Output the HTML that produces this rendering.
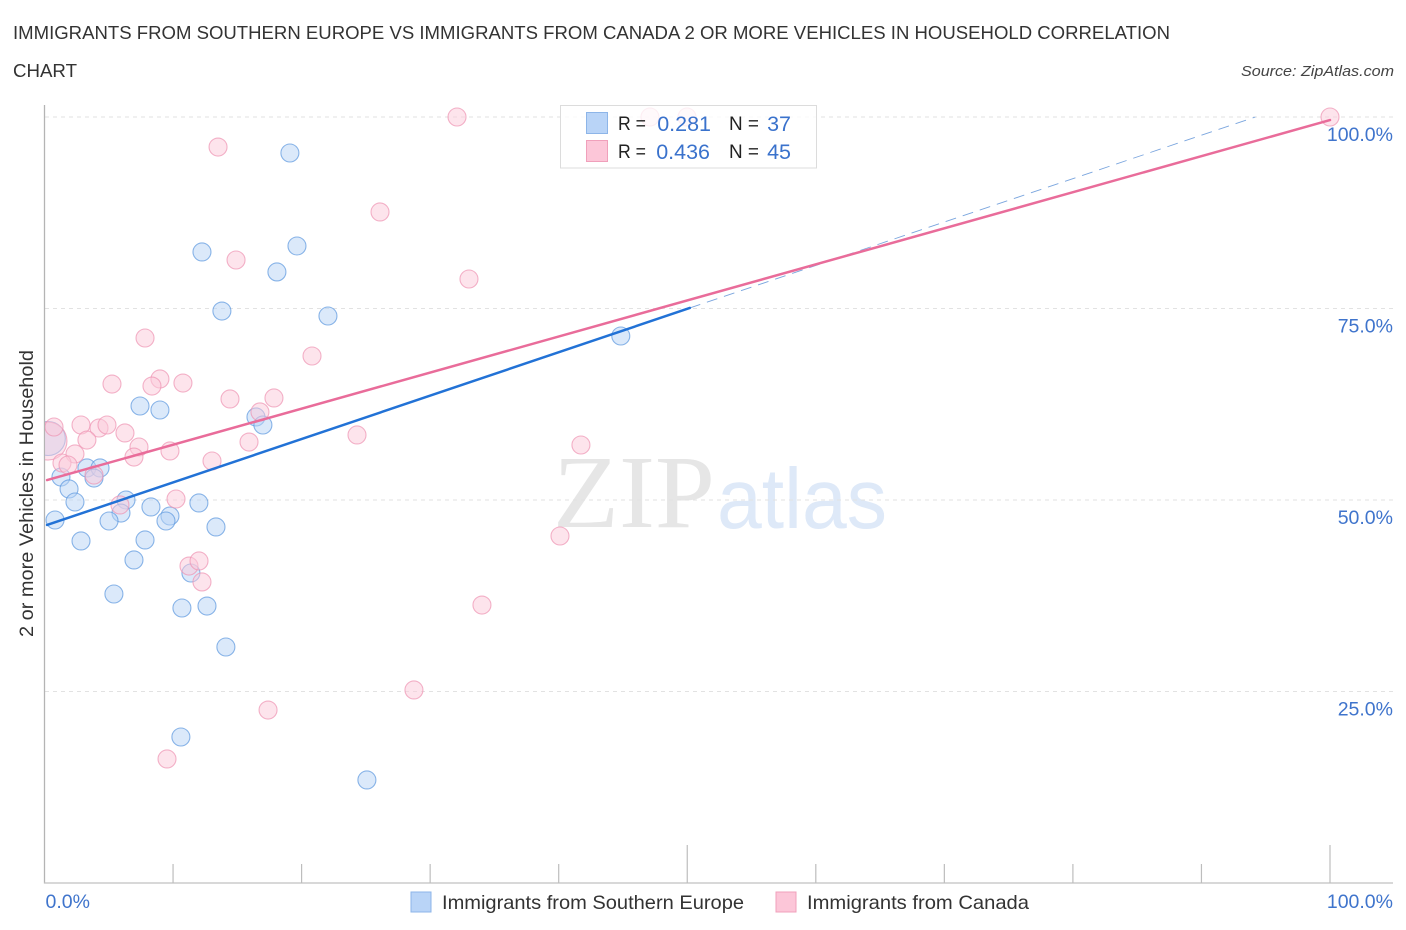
<!DOCTYPE html>
<html lang="en">
<head>
<meta charset="utf-8">
<title>Immigrants from Southern Europe vs Immigrants from Canada correlation chart</title>
<style>
html,body{margin:0;padding:0;background:#fff;}
body{width:1406px;height:930px;overflow:hidden;}
svg{display:block;}
text{font-family:"Liberation Sans",sans-serif;}
</style>
</head>
<body>
<svg id="chart" width="1406" height="930" viewBox="0 0 1406 930" xmlns="http://www.w3.org/2000/svg">
  <text x="13" y="39" font-size="18.5" fill="#333" textLength="1157" lengthAdjust="spacingAndGlyphs">IMMIGRANTS FROM SOUTHERN EUROPE VS IMMIGRANTS FROM CANADA 2 OR MORE VEHICLES IN HOUSEHOLD CORRELATION</text>
  <text x="13" y="77" font-size="18.5" fill="#333" textLength="64" lengthAdjust="spacingAndGlyphs">CHART</text>
  <text x="1394" y="76" font-size="15" font-style="italic" fill="#444" text-anchor="end" textLength="153" lengthAdjust="spacingAndGlyphs">Source: ZipAtlas.com</text>

  <g>
    <text x="553" y="527" font-size="104" fill="#e6e6e6" style="font-family:'Liberation Serif',serif" textLength="162" lengthAdjust="spacingAndGlyphs">ZIP</text>
    <text x="717" y="528" font-size="85" fill="#dee9f8" textLength="170" lengthAdjust="spacingAndGlyphs">atlas</text>
  </g>

  <g id="grid"></g>
  <g id="axes"></g>
  <g id="pointsBlue"></g>
  <g id="pointsPink"></g>
  <g id="trends"></g>
  <g id="ticks"></g>

  <text transform="translate(33,493.5) rotate(-90)" font-size="19.5" fill="#333" text-anchor="middle" textLength="287" lengthAdjust="spacingAndGlyphs">2 or more Vehicles in Household</text>

  <g>
    <rect x="560.5" y="105.5" width="256" height="62.5" fill="#fff" fill-opacity="0.78" stroke="#dcdcdc" stroke-width="1"></rect>
    <rect x="586.5" y="112.5" width="21" height="21" fill="#b9d4f7" stroke="#8db5e8"></rect>
    <rect x="586.5" y="140.5" width="21" height="21" fill="#fcc6d8" stroke="#f0a0bb"></rect>
    <text x="618" y="130" font-size="19" fill="#222" textLength="28" lengthAdjust="spacingAndGlyphs">R =</text>
    <text x="711" y="131" font-size="21.5" fill="#3a72cc" text-anchor="end">0.281</text>
    <text x="729" y="130" font-size="19" fill="#222" textLength="30" lengthAdjust="spacingAndGlyphs">N =</text>
    <text x="791" y="131" font-size="21.5" fill="#3a72cc" text-anchor="end">37</text>
    <text x="618" y="158" font-size="19" fill="#222" textLength="28" lengthAdjust="spacingAndGlyphs">R =</text>
    <text x="710" y="159" font-size="21.5" fill="#3a72cc" text-anchor="end">0.436</text>
    <text x="729" y="158" font-size="19" fill="#222" textLength="30" lengthAdjust="spacingAndGlyphs">N =</text>
    <text x="791" y="159" font-size="21.5" fill="#3a72cc" text-anchor="end">45</text>
  </g>

  <g>
    <g>
      <rect x="411" y="892" width="20" height="20" fill="#b9d4f7" stroke="#8db5e8"></rect>
      <text x="442" y="909" font-size="19.5" fill="#333" textLength="302" lengthAdjust="spacingAndGlyphs">Immigrants from Southern Europe</text>
    </g>
    <g>
      <rect x="776" y="892" width="20" height="20" fill="#fcc6d8" stroke="#f0a0bb"></rect>
      <text x="807" y="909" font-size="19.5" fill="#333" textLength="222" lengthAdjust="spacingAndGlyphs">Immigrants from Canada</text>
    </g>
  </g>
</svg>
<script>
// Data (percent values)
var blueX = [0.3,19.09,19.64,12.25,18.08,13.80,22.05,44.83,7.43,8.98,16.45,16.99,3.30,4.32,3.85,1.28,1.91,2.37,6.34,5.95,8.28,9.76,9.45,12.01,5.02,0.82,13.34,2.84,7.82,6.96,11.39,5.40,10.69,12.64,14.11,10.61,25.08];
var blueY = [58.03,95.30,83.16,82.38,79.77,74.67,74.02,71.41,62.27,61.75,60.84,59.79,54.18,54.18,52.87,53.00,51.44,49.74,50.00,48.30,49.09,47.91,47.26,49.61,47.26,47.39,46.48,44.65,44.78,42.17,40.47,37.73,35.90,36.16,30.81,19.06,13.45];
var pinkX = [0.27,32.09,47.10,49.98,100.0,13.50,26.10,14.90,33.02,7.82,20.81,5.25,8.98,8.36,10.77,14.43,17.85,16.76,15.91,24.31,41.73,0.74,2.84,4.24,4.86,6.26,3.30,7.35,6.96,9.76,13.03,2.37,1.36,1.83,3.85,5.87,10.23,40.10,11.24,12.02,12.25,34.03,28.74,17.39,9.53];
var pinkY = [57.70,100,100,100,100,96.08,87.60,81.33,78.85,71.15,68.80,65.14,65.80,64.88,65.27,63.19,63.32,61.49,57.57,58.49,57.18,59.53,59.79,59.40,59.79,58.75,57.83,56.92,55.61,56.40,55.09,56.01,54.83,54.57,53.26,49.35,50.13,45.30,41.38,42.04,39.30,36.29,25.20,22.58,16.19];
var blueTrendX = [0.2,50.2];
var blueTrendY = [46.74,75.07];
var blueDashX = [50.2,94.2];
var blueDashY = [75.07,100];
var pinkTrendX = [0.2,100];
var pinkTrendY = [52.6,99.6];
var yTicks = [25,50,75,100];
var yTickLabels = ["25.0%","50.0%","75.0%","100.0%"];
var xMinorTicks = [10,20,30,40,60,70,80,90];
var xMajorTicks = [50,100];
var xTickLabels = ["0.0%","100.0%"];

var NS = "http://www.w3.org/2000/svg";
function sx(v){ return 44.5 + v * 12.855; }
function sy(v){ return 883 - v * 7.66; }
function make(tag, parentId, attrs){
  var el = document.createElementNS(NS, tag);
  for (var k in attrs) el.setAttribute(k, attrs[k]);
  document.getElementById(parentId).appendChild(el);
  return el;
}

// clip for the points at the y axis
var defs = document.createElementNS(NS, "defs");
var clip = document.createElementNS(NS, "clipPath");
clip.setAttribute("id", "plotClip");
var clipRect = document.createElementNS(NS, "rect");
clipRect.setAttribute("x", 45); clipRect.setAttribute("y", 90);
clipRect.setAttribute("width", 1361); clipRect.setAttribute("height", 800);
clip.appendChild(clipRect); defs.appendChild(clip);
document.getElementById("chart").insertBefore(defs, document.getElementById("chart").firstChild);
document.getElementById("pointsBlue").setAttribute("clip-path", "url(#plotClip)");
document.getElementById("pointsPink").setAttribute("clip-path", "url(#plotClip)");

// gridlines
yTicks.forEach(function(t){
  var g = make("line", "grid", {x1:45, x2:1393, y1:sy(t), y2:sy(t), stroke:"#e2e2e2", "stroke-width":1, "stroke-dasharray":"4 4"});
  
  
});

// axes
var yAxis = make("line", "axes", {x1:44.5, x2:44.5, y1:105, y2:883.5, stroke:"#b4b4b4", "stroke-width":1.3});


var xAxis = make("line", "axes", {x1:44, x2:1393, y1:883, y2:883, stroke:"#c0c0c0", "stroke-width":1.3});


xMinorTicks.forEach(function(t){
  var l = make("line", "axes", {x1:sx(t), x2:sx(t), y1:864, y2:883, stroke:"#bdbdbd", "stroke-width":1.2});
  
  
});
xMajorTicks.forEach(function(t){
  var l = make("line", "axes", {x1:sx(t), x2:sx(t), y1:845, y2:883, stroke:"#bdbdbd", "stroke-width":1.2});
  
  
});

// points
function drawPoints(xs, ys, parentId, fill, stroke, bigR){
  xs.forEach(function(x, i){
    var c = make("circle", parentId, {cx:sx(x), cy:sy(ys[i]), r:(i === 0 ? bigR : 9), fill:fill, "fill-opacity":0.5, stroke:stroke, "stroke-opacity":0.7, "stroke-width":1.1});
    
    
  });
}
drawPoints(blueX, blueY, "pointsBlue", "#b8d3f5", "#5b97de", 17);
drawPoints(pinkX, pinkY, "pointsPink", "#fbc9da", "#ee93b2", 19);

// trend lines
var dashLine = make("line", "trends", {x1:sx(blueDashX[0]), y1:sy(blueDashY[0]), x2:sx(blueDashX[1]), y2:sy(blueDashY[1]), stroke:"#7aa5de", "stroke-width":0.9, "stroke-dasharray":"11 7"});


var blueLine = make("line", "trends", {x1:sx(blueTrendX[0]), y1:sy(blueTrendY[0]), x2:sx(blueTrendX[1]), y2:sy(blueTrendY[1]), stroke:"#2272d6", "stroke-width":2.5, "stroke-linecap":"round"});


var pinkLine = make("line", "trends", {x1:sx(pinkTrendX[0]), y1:sy(pinkTrendY[0]), x2:sx(pinkTrendX[1]), y2:sy(pinkTrendY[1]), stroke:"#e96c9a", "stroke-width":2.5, "stroke-linecap":"round"});



// tick labels
yTicks.forEach(function(t, i){
  var tx = make("text", "ticks", {x:1393, y:sy(t) + 24, "font-size":19.5, fill:"#3f74cc", "text-anchor":"end"});
  tx.textContent = yTickLabels[i];
  
  
});
var x0 = make("text", "ticks", {x:45.5, y:908, "font-size":19.5, fill:"#3f74cc"});
x0.textContent = xTickLabels[0];


var x1 = make("text", "ticks", {x:1393, y:908, "font-size":19.5, fill:"#3f74cc", "text-anchor":"end"});
x1.textContent = xTickLabels[1];


</script>
</body>
</html>
